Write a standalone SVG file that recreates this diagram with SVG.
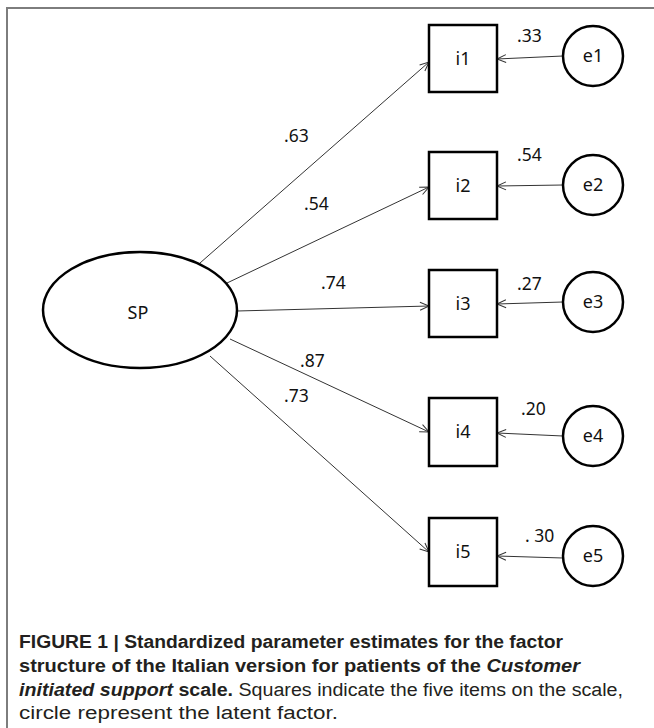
<svg xmlns="http://www.w3.org/2000/svg" width="654" height="728" viewBox="0 0 654 728">
<defs>
<marker id="ah" markerWidth="12" markerHeight="12" refX="10" refY="5" orient="auto" markerUnits="userSpaceOnUse">
<path d="M1,1 L10,5 L1,9" fill="none" stroke="#333" stroke-width="1"/>
</marker>
<style>
.frame{fill:none;stroke:#7d7d7d;stroke-width:2}
.node{fill:#fff;stroke:#000;stroke-width:2.5}
.lbl{font-family:"Noto Sans","Open Sans",sans-serif;font-size:17.5px;fill:#111}
.nl{font-family:"Noto Sans","Open Sans",sans-serif;font-size:18px;fill:#111;text-anchor:middle}
.edge{fill:none;stroke:#333;stroke-width:1;marker-end:url(#ah)}
.cap{font-family:"Liberation Sans",Arial,sans-serif;font-size:18px;fill:#231f20}
.b{font-weight:bold}
.bi{font-weight:bold;font-style:italic}
</style>
</defs>
<rect class="frame" x="7" y="8" width="660" height="740"/>
<g id="connectors">
<line class="edge" x1="200" y1="263" x2="429" y2="62"/>
<line class="edge" x1="227" y1="283" x2="429" y2="187"/>
<line class="edge" x1="237" y1="311" x2="429" y2="306"/>
<line class="edge" x1="230" y1="339" x2="429" y2="432"/>
<line class="edge" x1="210" y1="356" x2="429" y2="552"/>
<line class="edge" x1="563" y1="56" x2="497" y2="59"/>
<line class="edge" x1="563" y1="185" x2="497" y2="186"/>
<line class="edge" x1="563" y1="302" x2="497" y2="304"/>
<line class="edge" x1="563" y1="436" x2="497" y2="433"/>
<line class="edge" x1="563" y1="558" x2="497" y2="556"/>
<text class="lbl" x="284" y="142">.63</text>
<text class="lbl" x="304" y="210">.54</text>
<text class="lbl" x="321" y="289">.74</text>
<text class="lbl" x="300" y="367">.87</text>
<text class="lbl" x="284" y="402">.73</text>
<text class="lbl" x="517" y="42">.33</text>
<text class="lbl" x="517" y="161">.54</text>
<text class="lbl" x="517" y="290">.27</text>
<text class="lbl" x="521" y="415">.20</text>
<text class="lbl" x="525" y="542">. 30</text>
</g>
<g id="SP"><ellipse class="node" cx="140" cy="310" rx="97" ry="58"/><text class="nl" x="138" y="319">SP</text></g>
<g id="i1"><rect class="node" x="429" y="25" width="68" height="67"/><text class="nl" x="463" y="65">i1</text></g>
<g id="i2"><rect class="node" x="429" y="152" width="68" height="67"/><text class="nl" x="463" y="192">i2</text></g>
<g id="i3"><rect class="node" x="429" y="270" width="68" height="67"/><text class="nl" x="463" y="310">i3</text></g>
<g id="i4"><rect class="node" x="429" y="398" width="68" height="68"/><text class="nl" x="463" y="438">i4</text></g>
<g id="i5"><rect class="node" x="429" y="518" width="68" height="68"/><text class="nl" x="463" y="558">i5</text></g>
<g id="e1"><circle class="node" cx="593" cy="56" r="30"/><text class="nl" x="593" y="62">e1</text></g>
<g id="e2"><circle class="node" cx="593" cy="185" r="30"/><text class="nl" x="593" y="191">e2</text></g>
<g id="e3"><circle class="node" cx="593" cy="302" r="30"/><text class="nl" x="593" y="308">e3</text></g>
<g id="e4"><circle class="node" cx="593" cy="436" r="30"/><text class="nl" x="593" y="442">e4</text></g>
<g id="e5"><circle class="node" cx="593" cy="556" r="30"/><text class="nl" x="593" y="562">e5</text></g>
<g id="caption">
<text class="cap b" x="19" y="648" textLength="544" lengthAdjust="spacingAndGlyphs">FIGURE 1 | Standardized parameter estimates for the factor</text>
<text class="cap" x="19" y="672" textLength="561" lengthAdjust="spacingAndGlyphs"><tspan class="b">structure of the Italian version for patients of the </tspan><tspan class="bi">Customer</tspan></text>
<text class="cap" x="19" y="696" textLength="604" lengthAdjust="spacingAndGlyphs"><tspan class="bi">initiated support</tspan><tspan class="b"> scale.</tspan> Squares indicate the five items on the scale,</text>
<text class="cap" x="19" y="719" textLength="319" lengthAdjust="spacingAndGlyphs">circle represent the latent factor.</text>
</g>
</svg>
